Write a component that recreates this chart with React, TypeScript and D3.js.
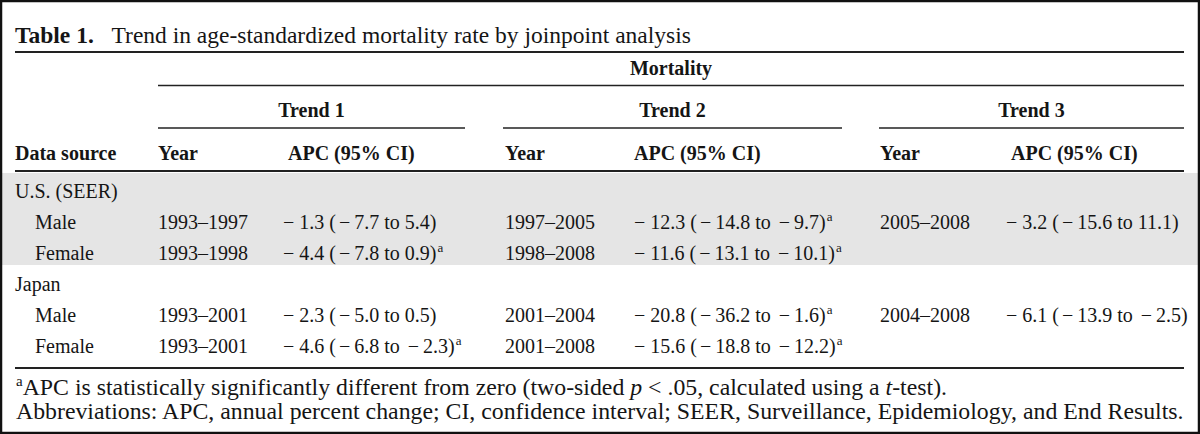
import React from "react";
import * as d3 from "d3";

const W = 1200;
const H = 434;

const titleBold = "Table 1.";
const titleText = "Trend in age-standardized mortality rate by joinpoint analysis";
const spanHeader = "Mortality";
const trendHeaders = ["Trend 1", "Trend 2", "Trend 3"];
const colHeaders = ["Data source", "Year", "APC (95% CI)", "Year", "APC (95% CI)", "Year", "APC (95% CI)"];

const groups = ["U.S. (SEER)", "Japan"];
const rowLabels = ["Male", "Female", "Male", "Female"];

const t1Years = ["1993–1997", "1993–1998", "1993–2001", "1993–2001"];
const t1APC = ["−1.3 (−7.7 to 5.4)", "−4.4 (−7.8 to 0.9)", "−2.3 (−5.0 to 0.5)", "−4.6 (−6.8 to −2.3)"];
const t1Sig = [false, true, false, true];

const t2Years = ["1997–2005", "1998–2008", "2001–2004", "2001–2008"];
const t2APC = ["−12.3 (−14.8 to −9.7)", "−11.6 (−13.1 to −10.1)", "−20.8 (−36.2 to −1.6)", "−15.6 (−18.8 to −12.2)"];
const t2Sig = [true, true, true, true];

const t3Years = ["2005–2008", "", "2004–2008", ""];
const t3APC = ["−3.2 (−15.6 to 11.1)", "", "−6.1 (−13.9 to −2.5)", ""];
const t3Sig = [false, false, false, false];

const footAbbrev = "Abbreviations: APC, annual percent change; CI, confidence interval; SEER, Surveillance, Epidemiology, and End Results.";

const FONT = "'Liberation Serif', 'Times New Roman', serif";
const FS = 20;
const FS_TITLE = 23.5;
const FS_FOOT = 23.8;

// column x positions (left-aligned)
const colX = [15, 158, 283, 505, 634, 880, 1006];
const headX = [15, 158, 288, 505, 634, 880, 1011];
const trendSpans: [number, number][] = [[158, 465], [503, 842], [879, 1184]];
const RULE_L = 15;
const RULE_R = 1184;

function apcText(s: string, sig: boolean) {
  const parts = s.split("−");
  const out: any[] = [];
  parts.forEach((p, k) => {
    if (k > 0) {
      const leading = k === 1 && parts[0] === "";
      out.push(<tspan key={"m" + k} dx={leading ? 0 : 3}>−</tspan>);
      out.push(<tspan key={"p" + k} dx={leading ? 5 : 4}>{p}</tspan>);
    } else if (p) {
      out.push(<tspan key={"p" + k}>{p}</tspan>);
    }
  });
  if (sig) out.push(<tspan key="sup" fontSize={13} dy={-8} dx={1}>a</tspan>);
  return out;
}

export default function App() {
  // body rows: 0 group US, 1 Male, 2 Female, 3 group Japan, 4 Male, 5 Female
  const y = d3.scaleLinear().domain([0, 5]).range([198, 353]);
  const bodyRowIndex = [1, 2, 4, 5];
  const groupRowIndex = [0, 3];

  const cells: any[] = [];
  rowLabels.forEach((lab, i) => {
    const yy = y(bodyRowIndex[i]);
    cells.push(<text key={"l" + i} x={35} y={yy}>{lab}</text>);
    const cols: [string[], string[], boolean[], number, number][] = [
      [t1Years, t1APC, t1Sig, colX[1], colX[2]],
      [t2Years, t2APC, t2Sig, colX[3], colX[4]],
      [t3Years, t3APC, t3Sig, colX[5], colX[6]],
    ];
    cols.forEach(([yrs, apc, sig, xa, xb], j) => {
      if (yrs[i]) cells.push(<text key={`y${i}-${j}`} x={xa} y={yy}>{yrs[i]}</text>);
      if (apc[i]) cells.push(<text key={`a${i}-${j}`} x={xb} y={yy}>{apcText(apc[i], sig[i])}</text>);
    });
  });

  return (
    <svg width={W} height={H} style={{ position: "absolute", left: 0, top: 0, background: "#fff" }}
      fontFamily={FONT} fontSize={FS} fill="#151515">
      <rect x={0} y={0} width={W} height={H} fill="#fff" />
      {/* gray band */}
      <rect x={2} y={173} width={W - 4} height={92} fill="#e5e5e5" />
      {/* title */}
      <text x={15} y={43} fontSize={FS_TITLE}>
        <tspan fontWeight="bold">{titleBold}</tspan>
        <tspan dx={6}>{"\u00a0\u00a0" + titleText}</tspan>
      </text>
      <line x1={RULE_L} x2={RULE_R} y1={52} y2={52} stroke="#222" strokeWidth={2} />
      {/* Mortality */}
      <text x={(158 + RULE_R) / 2} y={75} textAnchor="middle" fontWeight="bold">{spanHeader}</text>
      <line x1={158} x2={RULE_R} y1={85.5} y2={85.5} stroke="#222" strokeWidth={1.6} />
      {trendHeaders.map((t, i) => (
        <g key={t}>
          <text x={(trendSpans[i][0] + trendSpans[i][1]) / 2} y={117} textAnchor="middle" fontWeight="bold">{t}</text>
          <line x1={trendSpans[i][0]} x2={trendSpans[i][1]} y1={128} y2={128} stroke="#222" strokeWidth={1.6} />
        </g>
      ))}
      {colHeaders.map((h, i) => (
        <text key={i} x={headX[i]} y={160} fontWeight="bold">{h}</text>
      ))}
      <line x1={RULE_L} x2={RULE_R} y1={171} y2={171} stroke="#222" strokeWidth={2} />
      {groups.map((g, i) => (
        <text key={g} x={colX[0]} y={y(groupRowIndex[i])}>{g}</text>
      ))}
      {cells}
      <line x1={RULE_L} x2={RULE_R} y1={368} y2={368} stroke="#222" strokeWidth={2} />
      <text x={16} y={395} fontSize={FS_FOOT}>
        <tspan fontSize={15} dy={-9}>a</tspan>
        <tspan dy={9}>APC is statistically significantly different from zero (two-sided </tspan>
        <tspan fontStyle="italic">p</tspan>
        <tspan>{" < .05, calculated using a "}</tspan>
        <tspan fontStyle="italic">t</tspan>
        <tspan>-test).</tspan>
      </text>
      <text x={16} y={419} fontSize={FS_FOOT}>{footAbbrev}</text>
      {/* frame */}
      <rect x={1} y={1} width={W - 2} height={H - 2} fill="none" stroke="#111" strokeWidth={2.5} />
    </svg>
  );
}
